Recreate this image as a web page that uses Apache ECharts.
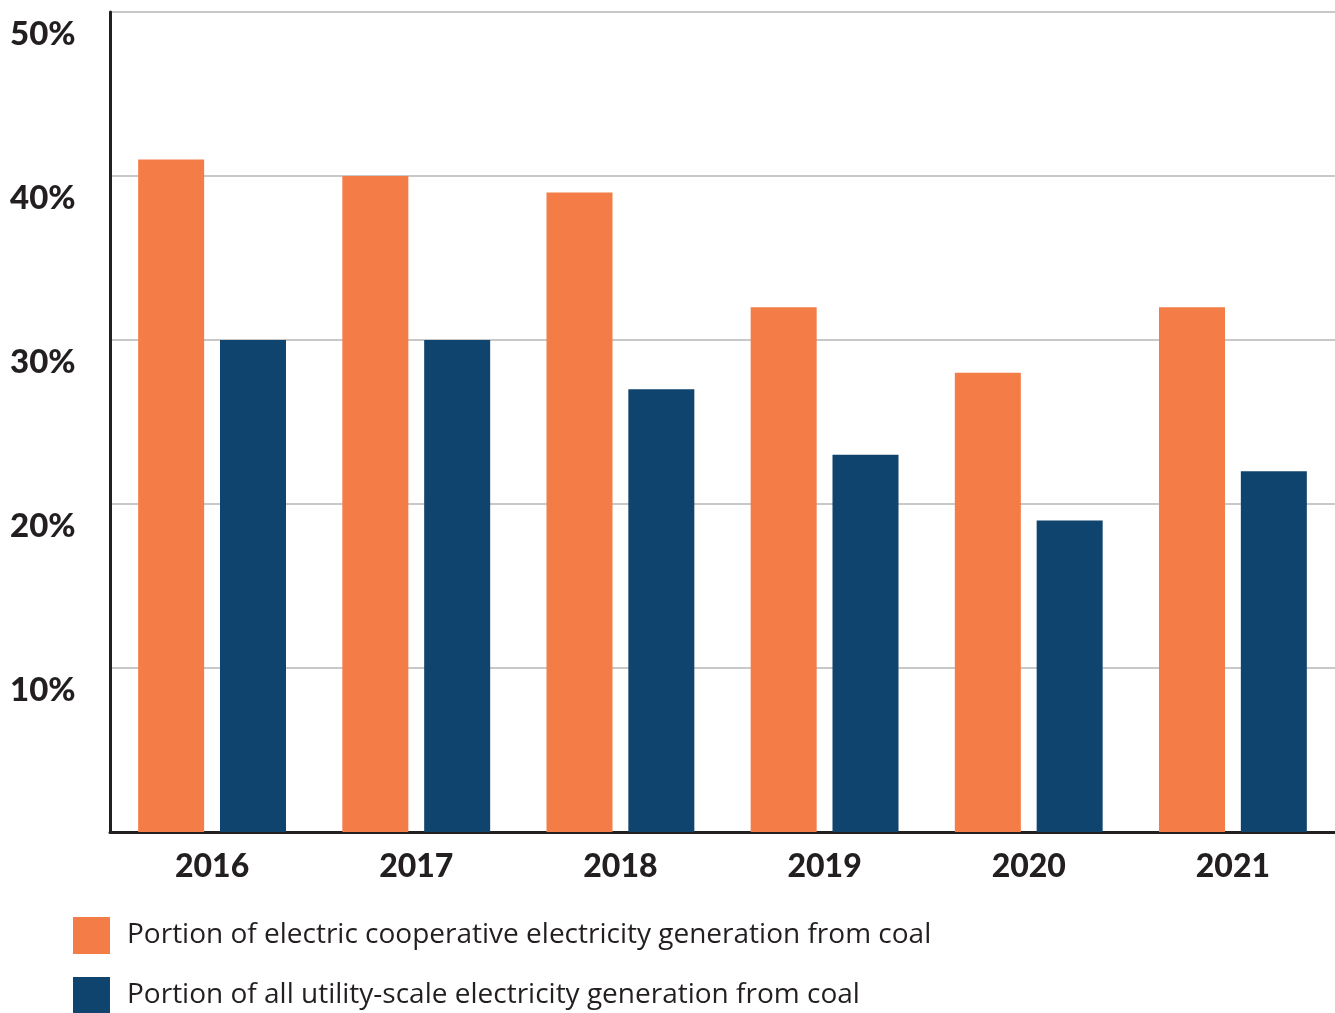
<!DOCTYPE html>
<html lang="en">
<head>
    <meta charset="UTF-8">
    <title>Coal share of generation</title>
    <script src="https://cdn.jsdelivr.net/npm/echarts@6/dist/echarts.min.js"></script>
    <style>
        html, body { margin: 0; padding: 0; background: #fff; }
        #main { width: 1335px; height: 1013px; }
    </style>
</head>
<body>
<div id="main"></div>
<script>
    // data
    var years = ['2016', '2017', '2018', '2019', '2020', '2021'];
    var coopCoal = [41, 40, 39, 32, 28, 32];
    var allCoal = [30, 30, 27, 23, 19, 22];
    var coopName = 'Portion of electric cooperative electricity generation from coal';
    var allName = 'Portion of all utility-scale electricity generation from coal';

    var ink = '#231f20';
    var font = 'Lato, "Open Sans", sans-serif';
    var legendFont = '"Open Sans", Lato, sans-serif';

    var myChart = echarts.init(document.getElementById('main'));

    function legendAt(top, name) {
        return {
            left: 73,
            top: top,
            padding: 0,
            itemWidth: 37,
            itemHeight: 37,
            icon: 'rect',
            selectedMode: false,
            textStyle: { fontSize: 28, color: ink, fontFamily: legendFont, padding: [0, 0, 0, 12] },
            data: [name]
        };
    }

    var option = {
        animation: false,
        textStyle: { fontFamily: font },
        grid: { left: 110, right: 0, top: 12, bottom: 181, containLabel: false },
        legend: [legendAt(917, coopName), legendAt(977, allName)],
        xAxis: {
            type: 'category',
            data: years,
            axisLine: { lineStyle: { color: ink, width: 3 } },
            axisTick: { show: false },
            axisLabel: { margin: 19, fontSize: 32, fontWeight: 900, color: ink, fontFamily: font }
        },
        yAxis: {
            type: 'value',
            min: 0,
            max: 50,
            interval: 10,
            axisLine: { show: true, lineStyle: { color: ink, width: 3 } },
            axisTick: { show: false },
            splitLine: { lineStyle: { color: '#c8c8c8', width: 2 } },
            axisLabel: {
                margin: 100,
                align: 'left',
                verticalAlign: 'top',
                padding: [6, 0, 0, 0],
                fontSize: 33,
                fontWeight: 900,
                color: ink,
                fontFamily: font,
                formatter: function (v) { return v === 0 ? '' : v + '%'; }
            }
        },
        series: [
            {
                name: coopName,
                type: 'bar',
                data: coopCoal,
                barWidth: 66,
                barGap: '24%',
                itemStyle: { color: '#f47c47' }
            },
            {
                name: allName,
                type: 'bar',
                data: allCoal,
                barWidth: 66,
                itemStyle: { color: '#0f446f' }
            }
        ]
    };

    myChart.setOption(option);
</script>
</body>
</html>
